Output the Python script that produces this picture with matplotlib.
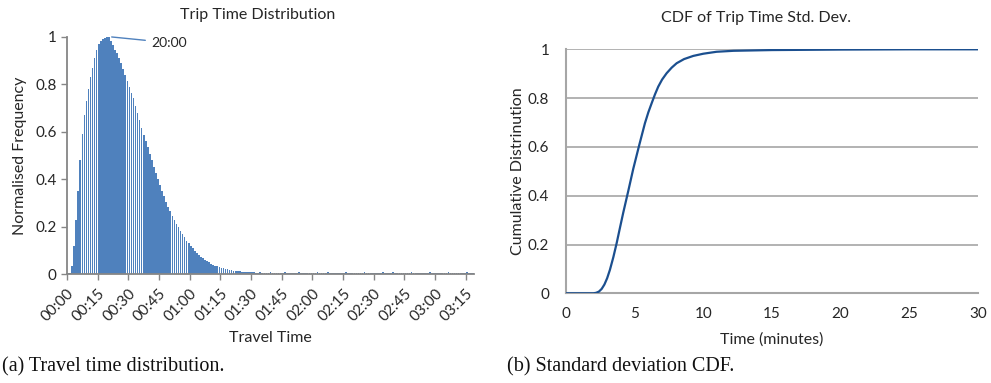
import matplotlib
matplotlib.use("Agg")
from matplotlib import pyplot as plt
from matplotlib.transforms import ScaledTranslation

# left panel: normalised frequency per 1-minute travel time bin
freq_head = [0.006, 0.006, 0.035, 0.12, 0.23, 0.35, 0.48, 0.59, 0.67, 0.73,
             0.78, 0.83, 0.87, 0.91, 0.945, 0.97, 0.98, 0.99, 0.995, 1.0,
             1.0, 0.98, 0.965, 0.945, 0.93, 0.91, 0.89, 0.865, 0.84, 0.815,
             0.79, 0.765, 0.74, 0.71, 0.68, 0.65, 0.615, 0.586, 0.56, 0.535,
             0.505, 0.48, 0.45, 0.425, 0.40, 0.375, 0.352, 0.328, 0.305, 0.285,
             0.265, 0.247, 0.228, 0.212, 0.198, 0.183, 0.168, 0.155, 0.142, 0.13,
             0.119, 0.109, 0.099, 0.09, 0.081, 0.073, 0.067, 0.061, 0.055, 0.05,
             0.045, 0.041, 0.037, 0.033, 0.03, 0.027, 0.025, 0.023, 0.021, 0.019,
             0.017, 0.015, 0.014, 0.013, 0.012, 0.011, 0.010, 0.010, 0.009, 0.009,
             0.008]
freq_tail = [0.008, 0.007, 0.007, 0.008, 0.007, 0.007, 0.006, 0.007, 0.008, 0.007,
             0.006, 0.007, 0.007, 0.006, 0.007, 0.008, 0.007, 0.006, 0.007, 0.007,
             0.006, 0.007, 0.008, 0.007, 0.006, 0.007, 0.006, 0.007, 0.007, 0.006,
             0.007, 0.008, 0.006, 0.007, 0.006, 0.007, 0.008, 0.007, 0.006, 0.007,
             0.007, 0.006, 0.007, 0.006, 0.007, 0.008, 0.006, 0.007, 0.006, 0.007,
             0.007, 0.006, 0.007, 0.006, 0.008, 0.007, 0.006, 0.007, 0.007, 0.006,
             0.007, 0.006, 0.007, 0.008, 0.006, 0.007, 0.006, 0.007, 0.008, 0.007,
             0.006, 0.007, 0.007, 0.006, 0.007, 0.006, 0.007, 0.008, 0.006, 0.007,
             0.006, 0.007, 0.007, 0.006, 0.007, 0.006, 0.008, 0.007, 0.006, 0.007,
             0.007, 0.006, 0.007, 0.006, 0.007, 0.008, 0.006, 0.007, 0.006, 0.007,
             0.007, 0.006, 0.007, 0.006, 0.008, 0.007, 0.006, 0.007]
freq = freq_head + freq_tail
minutes = list(range(len(freq)))
tick_minutes = list(range(0, 196, 15))
tick_labels = ['00:00', '00:15', '00:30', '00:45', '01:00', '01:15', '01:30',
               '01:45', '02:00', '02:15', '02:30', '02:45', '03:00', '03:15']
peak_label = '20:00'
peak_bin = 20

# right panel: CDF of trip time std. dev.
cdf_x = [0, 1, 2, 2.2, 2.4, 2.6, 2.8, 3.0, 3.2, 3.45, 3.69, 3.93, 4.17, 4.54,
         4.9, 5.32, 5.75, 6.0, 6.24, 6.48, 6.72, 7.0, 7.33, 7.7, 8.06, 8.6,
         9.27, 10.0, 10.97, 12.2, 15, 20, 25, 30]
cdf_y = [0, 0, 0, 0.002, 0.007, 0.018, 0.036, 0.062, 0.096, 0.148, 0.205,
         0.268, 0.33, 0.42, 0.51, 0.604, 0.697, 0.742, 0.779, 0.815, 0.847,
         0.876, 0.902, 0.925, 0.943, 0.96, 0.973, 0.982, 0.99, 0.994, 0.997,
         0.999, 1.0, 1.0]

plt.rcParams['font.family'] = ['Lato', 'DejaVu Sans']
plt.rcParams['font.size'] = 11
grey = '#868686'
txt = '#262626'

fig = plt.figure(figsize=(9.91, 3.83), dpi=100)

ax = fig.add_axes([0.0676, 0.2838, 0.4107, 0.6204])
ax.bar([m + 0.5 for m in minutes], freq, width=0.8, color='#4F81BD', linewidth=0)
ax.set_xlim(0, len(freq))
ax.set_ylim(0, 1)
ax.set_xticks(tick_minutes)
ax.set_xticklabels(tick_labels, rotation=45, ha='right', va='top',
                   rotation_mode='anchor')
shift = ScaledTranslation(4 / 72, -2 / 72, fig.dpi_scale_trans)
for lbl in ax.get_xticklabels():
    lbl.set_transform(lbl.get_transform() + shift)
ax.set_yticks([0, 0.2, 0.4, 0.6, 0.8, 1.0])
ax.set_yticklabels(['0', '0.2', '0.4', '0.6', '0.8', '1'])
for s in ['top', 'right']:
    ax.spines[s].set_visible(False)
for s in ['left', 'bottom']:
    ax.spines[s].set_color(grey)
    ax.spines[s].set_linewidth(1.3)
ax.tick_params(colors=grey, labelcolor=txt, length=4, width=1, labelsize=11)
ax.tick_params(axis='x', pad=5)
ax.set_xlabel('Travel Time', fontsize=11.5, color=txt, labelpad=5)
ax.set_ylabel('Normalised Frequency', fontsize=11.5, color=txt, labelpad=6)
ax.annotate(peak_label, xy=(peak_bin + 0.5, 1.0), xytext=(41, 0.975),
            fontsize=10, color=txt, va='center',
            arrowprops=dict(arrowstyle='-', color='#4F81BD', lw=1))
fig.text(258 / 991, 1 - 15 / 383, 'Trip Time Distribution', ha='center',
         va='center', fontsize=11.5, color=txt)

ax2 = fig.add_axes([0.5711, 0.2342, 0.4157, 0.637])
ax2.plot(cdf_x, cdf_y, color='#1B4F8F', lw=1.6, zorder=3)
ax2.set_xlim(0, 30)
ax2.set_ylim(0, 1)
ax2.set_xticks([0, 5, 10, 15, 20, 25, 30])
ax2.set_yticks([0, 0.2, 0.4, 0.6, 0.8, 1.0])
ax2.set_yticklabels(['0', '0.2', '0.4', '0.6', '0.8', '1'])
ax2.yaxis.grid(True, color='#A6A6A6', lw=1.2)
ax2.set_axisbelow(True)
for s in ['top', 'right']:
    ax2.spines[s].set_visible(False)
for s in ['left', 'bottom']:
    ax2.spines[s].set_color('#A6A6A6')
    ax2.spines[s].set_linewidth(1.5)
ax2.tick_params(length=0, labelcolor=txt, labelsize=11)
ax2.tick_params(axis='x', pad=10)
ax2.tick_params(axis='y', pad=12)
ax2.set_xlabel('Time (minutes)', fontsize=11.5, color=txt, labelpad=8)
ax2.set_ylabel('Cumulative Distrinution', fontsize=11.5, color=txt, labelpad=2)
fig.text(756 / 991, 1 - 18 / 383, 'CDF of Trip Time Std. Dev.', ha='center',
         va='center', fontsize=11.5, color=txt)

fig.text(2 / 991, 1 - 367 / 383, '(a) Travel time distribution.',
         family='Liberation Serif', fontsize=14.5, color='#111111', va='center')
fig.text(507 / 991, 1 - 367 / 383, '(b) Standard deviation CDF.',
         family='Liberation Serif', fontsize=14.5, color='#111111', va='center')

fig.savefig('out.png', dpi=100)
plt.close(fig)
